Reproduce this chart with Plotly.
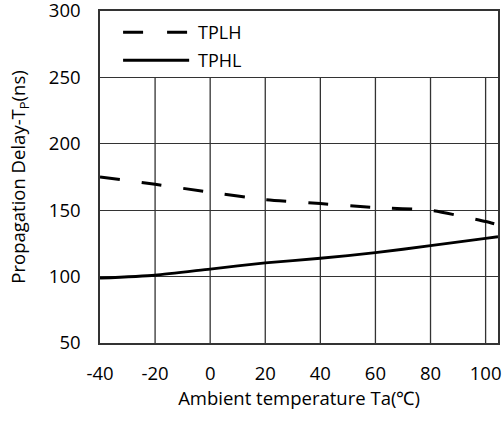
import plotly.graph_objects as go

temp_tplh = [-40, -20, 0, 20, 40, 60, 80, 90, 100, 104.5]
tplh = [175, 169.5, 163.5, 158, 155, 152, 150, 146, 141.5, 139]
temp_tphl = [-40, -20, 0, 20, 40, 60, 80, 100, 104.5]
tphl = [98.8, 101, 105.7, 110.3, 113.8, 118, 123.3, 128.8, 130]

x_ticks = [-40, -20, 0, 20, 40, 60, 80, 100]
x_labels = ["-40", "-20", "0", "20", "40", "60", "80", "100"]
y_ticks = [50, 100, 150, 200, 250, 300]
y_labels = ["50", "100", "150", "200", "250", "300"]
x_range = [-40, 104.5]
y_range = [50, 300]

FONT = "Open Sans"
FS = 18.5
fig = go.Figure()
fig.add_trace(go.Scatter(x=temp_tplh, y=tplh, mode="lines", name="TPLH",
                         line=dict(color="black", width=3, dash="20px,22px", shape="spline", smoothing=0.6),
                         showlegend=False))
fig.add_trace(go.Scatter(x=temp_tphl, y=tphl, mode="lines", name="TPHL",
                         line=dict(color="black", width=2.8, shape="spline", smoothing=0.6),
                         showlegend=False))

shapes = []
# vertical gridlines (stop at 250, legend area above)
for xv in x_ticks[1:]:
    shapes.append(dict(type="line", xref="x", yref="y", x0=xv, x1=xv, y0=y_range[0], y1=250,
                       line=dict(color="#333", width=1.3), layer="below"))
# manual legend
shapes.append(dict(type="line", xref="paper", yref="paper", x0=0.058, x1=0.222, y0=0.936, y1=0.936,
                   line=dict(color="black", width=3, dash="20px,24px")))
shapes.append(dict(type="line", xref="paper", yref="paper", x0=0.058, x1=0.224, y0=0.852, y1=0.852,
                   line=dict(color="black", width=3)))
annotations = [
    dict(text="TPLH", xref="paper", yref="paper", x=0.242, y=0.936, xanchor="left", yanchor="middle",
         showarrow=False, font=dict(family=FONT, size=18, color="black")),
    dict(text="TPHL", xref="paper", yref="paper", x=0.242, y=0.852, xanchor="left", yanchor="middle",
         showarrow=False, font=dict(family=FONT, size=18, color="black")),
]

fig.update_layout(
    width=504, height=421,
    margin=dict(l=100, r=6, t=11, b=78),
    paper_bgcolor="white", plot_bgcolor="white",
    font=dict(family=FONT, size=FS, color="black"),
    shapes=shapes, annotations=annotations,
    xaxis=dict(range=x_range, tickvals=x_ticks, ticktext=x_labels, showgrid=False, zeroline=False,
               showline=True, linecolor="#333", linewidth=1.5, mirror=True, automargin=False,
               ticks="", ticklabelstandoff=13, ticklabeloverflow="allow",
               title=dict(text="Ambient temperature Ta(℃)", standoff=8, font=dict(size=FS))),
    yaxis=dict(range=y_range, tickvals=y_ticks, ticktext=y_labels, showgrid=True, gridcolor="#333", gridwidth=1.3,
               zeroline=False, showline=True, linecolor="#333", linewidth=1.5, mirror=True, automargin=False,
               ticks="", ticklabelstandoff=14, ticklabeloverflow="allow",
               title=dict(text="Propagation Delay-T<sub>P</sub>(ns)", standoff=18, font=dict(size=FS))),
)

fig.write_html("out.html")
